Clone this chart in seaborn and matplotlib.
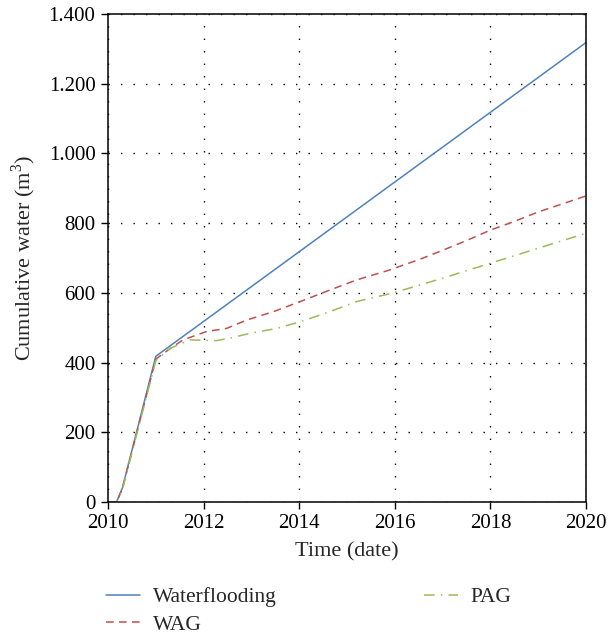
import matplotlib
matplotlib.use("Agg")
import matplotlib.pyplot as plt
import matplotlib.ticker as mticker
import numpy as np
import pandas as pd
import seaborn as sns

# Cumulative water production per injection scheme (time in decimal years)
wf_time = [2010.0, 2010.18, 2010.3, 2011.0, 2020.0]
wf_water = [0, 0, 40, 418, 1318]

wag_time = [2010.0, 2010.18, 2010.3, 2011.0, 2011.3, 2011.57, 2012.06, 2012.48,
            2012.9, 2013.46, 2014.02, 2014.64, 2015.2, 2015.83, 2016.5, 2017.0,
            2017.5, 2018.0, 2018.5, 2019.0, 2019.5, 2020.0]
wag_water = [0, 0, 38, 410, 440, 465, 489, 498, 522, 546, 575, 608, 637, 663,
             695, 722, 750, 780, 805, 832, 855, 878]

pag_time = [2010.0, 2010.18, 2010.3, 2011.0, 2011.3, 2011.72, 2012.27, 2012.55,
            2012.97, 2013.53, 2014.02, 2014.64, 2015.2, 2015.97, 2017.0, 2018.0,
            2019.0, 2020.0]
pag_water = [0, 0, 35, 405, 441, 465, 463, 470, 484, 498, 517, 546, 575, 600,
             642, 685, 728, 771]

series_names = ["Waterflooding", "WAG", "PAG"]
x_ticks = [2010, 2012, 2014, 2016, 2018, 2020]
y_ticks = [0, 200, 400, 600, 800, 1000, 1200, 1400]

frames = []
for name, t, w in zip(series_names, [wf_time, wag_time, pag_time],
                      [wf_water, wag_water, pag_water]):
    frames.append(pd.DataFrame({"time": t, "water": w, "scheme": name}))
df = pd.concat(frames, ignore_index=True)

sns.set_style("ticks")
plt.rcParams["font.family"] = ["Liberation Serif", "DejaVu Serif"]
plt.rcParams["mathtext.fontset"] = "custom"
plt.rcParams["mathtext.rm"] = "Liberation Serif"
plt.rcParams["font.size"] = 15

fig = plt.figure(figsize=(6.09, 6.34), dpi=100)
ax = fig.add_axes([108 / 609, 1 - 502 / 634, (586 - 108) / 609, (502 - 14) / 634])

palette = {"Waterflooding": "#4F81BD", "WAG": "#C0504D", "PAG": "#9BBB59"}
dashes = {"Waterflooding": "", "WAG": (5, 3.5), "PAG": (7, 4, 1, 4)}

sns.lineplot(data=df, x="time", y="water", hue="scheme", style="scheme",
             hue_order=series_names, style_order=series_names,
             palette=palette, dashes=dashes, linewidth=1.1, ax=ax,
             legend=True, sort=False, estimator=None)

ax.set_xlim(2010, 2020)
ax.set_ylim(0, 1400)
ax.set_xticks(x_ticks)
ax.set_yticks(y_ticks)
ax.yaxis.set_major_formatter(
    mticker.FuncFormatter(lambda v, p: f"{v:,.0f}".replace(",", ".")))
ax.xaxis.set_major_formatter(mticker.FuncFormatter(lambda v, p: f"{v:.0f}"))

ax.grid(True, color="black", linestyle=(0, (1, 8)), linewidth=1.0)
for side in ["left", "right", "top", "bottom"]:
    ax.spines[side].set_visible(True)
    ax.spines[side].set_color("black")
    ax.spines[side].set_linewidth(1.1)
ax.tick_params(direction="out", length=5, width=1.0, labelsize=15,
               colors="black", pad=4)

ax.set_xlabel("Time (date)", fontsize=16, labelpad=6)
ax.set_ylabel("Cumulative water (m$^3$)", fontsize=16, labelpad=8)

handles, labels = ax.get_legend_handles_labels()
ax.get_legend().remove()
fig.legend(handles, labels, loc="upper left",
           bbox_to_anchor=(106 / 609, 1 - 587 / 634), ncol=2, frameon=False,
           fontsize=15.5, handlelength=1.6, handletextpad=0.6,
           columnspacing=6.8, labelspacing=0.35, borderpad=0,
           borderaxespad=0)

fig.savefig("out.png", dpi=100)
